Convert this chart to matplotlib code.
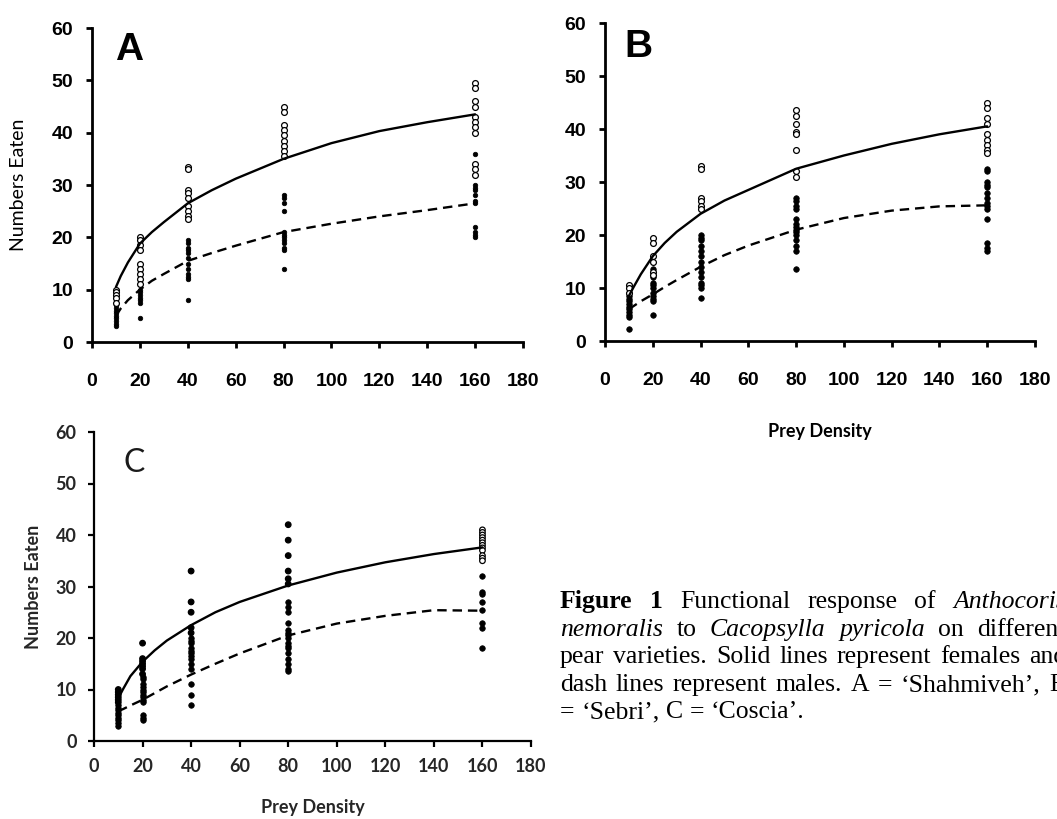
import matplotlib
matplotlib.use("Agg")
import matplotlib.pyplot as plt
from matplotlib.transforms import IdentityTransform

# ---------------- data ----------------
DENSITY = [10, 20, 40, 80, 160]
X_TICKS = [0, 20, 40, 60, 80, 100, 120, 140, 160, 180]
Y_TICKS = [0, 10, 20, 30, 40, 50, 60]

# Panel A ('Shahmiveh')
A_FEMALE = [[10, 9.5, 9, 8.5, 7.5],
            [20, 19.5, 18.5, 17.5, 15, 14, 13, 12, 11],
            [33.5, 33, 29, 28.5, 27.5, 26, 25, 24, 23.5],
            [45, 44, 41.5, 40.5, 39.5, 38.5, 37.5, 36.5, 35.5],
            [49.5, 48.5, 46, 45, 43, 42, 41, 40, 34, 33, 32]]
A_MALE = [[7, 6.5, 6, 5.5, 5, 4.5, 4, 3.5, 3],
          [10, 9.5, 9, 8.5, 8, 7.5, 4.5],
          [19.5, 19, 18, 17.5, 17, 16, 15, 14, 13, 12.5, 12, 8],
          [28, 27.5, 26.5, 25, 21, 20.5, 20, 19.5, 19, 18, 17.5, 14],
          [36, 30, 29.5, 29, 28, 27, 26.5, 22, 21, 20.5, 20]]

# Panel B ('Sebri')
B_FEMALE = [[10.5, 10, 9],
            [19.5, 18.5, 16, 15, 13, 12.5],
            [33, 32.5, 27, 26.5, 25.5, 25],
            [43.5, 42.5, 41, 39.5, 39, 36, 32, 31],
            [45, 44, 42, 41, 39, 38, 37, 36, 35.5]]
B_MALE = [[9, 8.5, 8, 7.5, 7, 6.5, 6, 5.5, 5, 4.5, 2.2],
          [13.5, 12, 11, 10.5, 10, 9, 8.5, 8, 7.5, 5],
          [20, 19.5, 19, 18, 17, 16, 15, 14, 13, 12, 11, 10.5, 10, 8.2],
          [27, 26.5, 25.5, 25, 23, 22, 21.5, 21, 20.5, 20, 19, 18, 17, 13.5],
          [32.5, 32, 30, 29.5, 29, 28, 27, 26, 25.5, 25, 23, 18.5, 17.5, 17]]

# Panel C ('Coscia')
C_FEMALE = [[10, 9.5, 9, 8.5, 8, 7.5],
            [19, 16, 15.5, 15, 14.5, 14, 13],
            [33, 27, 25, 22, 21],
            [42, 39, 36, 33, 31.5, 30.5],
            [41, 40.5, 40, 39.5, 39, 38.5, 38, 37.5, 37, 36, 35.5, 35]]
C_MALE = [[7, 6.5, 6, 5.5, 5, 4.5, 4, 3.5, 3],
          [12.5, 12, 11, 10.5, 10, 9.5, 9, 8.5, 8, 7.5, 5, 4.5, 4],
          [20, 19.5, 19, 18, 17.5, 17, 16.5, 16, 15, 14, 11, 9, 7],
          [27, 26, 25, 23, 21.5, 21, 20.5, 20, 19, 18.5, 18, 17, 16, 15, 14, 13.5],
          [32, 29, 28.5, 27, 25.5, 23, 22, 18]]

# fitted response curves
CURVE_X = [10, 12, 15, 20, 25, 30, 40, 50, 60, 80, 100, 120, 140, 160]
A_FEMALE_CURVE = [10.5, 12.6, 15.2, 18.8, 21, 22.9, 26.5, 29, 31.2, 35, 38, 40.3, 42, 43.5]
A_MALE_CURVE = [5, 6.4, 8, 10, 11.7, 13, 15.5, 17, 18.4, 21, 22.6, 24, 25.2, 26.5]
B_FEMALE_CURVE = [8.5, 10.2, 12.6, 16, 18.5, 20.6, 24, 26.5, 28.5, 32.5, 35, 37.2, 39, 40.5]
B_MALE_CURVE = [6, 6.6, 7.5, 8.8, 10.2, 11.5, 14, 16.2, 18, 21, 23.2, 24.6, 25.4, 25.6]
C_FEMALE_CURVE = [8.3, 10.1, 12.6, 15.4, 17.6, 19.5, 22.5, 25, 27, 30.2, 32.7, 34.7, 36.3, 37.6]
C_MALE_CURVE = [5.8, 6.2, 6.9, 8, 9.3, 10.6, 12.9, 15, 17, 20.5, 22.8, 24.3, 25.4, 25.3]

PANEL_LETTERS = ["A", "B", "C"]
Y_LABEL = "Numbers Eaten"
X_LABEL = "Prey Density"

CAPTION = [
    [("Figure", "b"), ("1", "b"), ("Functional", "n"), ("response", "n"), ("of", "n"), ("Anthocoris", "i")],
    [("nemoralis", "i"), ("to", "n"), ("Cacopsylla", "i"), ("pyricola", "i"), ("on", "n"), ("different", "n")],
    [(w, "n") for w in "pear varieties. Solid lines represent females and".split()],
    [(w, "n") for w in "dash lines represent males. A = \u2018Shahmiveh\u2019, B".split()],
    [(w, "n") for w in "= \u2018Sebri\u2019, C = \u2018Coscia\u2019.".split()],
]

# ---------------- figure ----------------
W, H = 1057, 819
fig = plt.figure(figsize=(W / 100, H / 100), dpi=100)
fig.patch.set_facecolor("white")


def px_axes(x0, x1, y_top, y_bot):
    return fig.add_axes([x0 / W, 1 - y_bot / H, (x1 - x0) / W, (y_bot - y_top) / H])


def expand(groups):
    xs, ys = [], []
    for d, vals in zip(DENSITY, groups):
        xs += [d] * len(vals)
        ys += vals
    return xs, ys


def style_axes(ax, spine_w, tick_font, tick_size, tick_weight, tick_color, xpad, ypad):
    for s in ["top", "right"]:
        ax.spines[s].set_visible(False)
    for s in ["left", "bottom"]:
        ax.spines[s].set_linewidth(spine_w)
        ax.spines[s].set_color("black")
    ax.set_xlim(0, 180)
    ax.set_ylim(0, 60)
    ax.set_xticks(X_TICKS)
    ax.set_yticks(Y_TICKS)
    ax.tick_params(axis="both", direction="out", length=4.5, width=spine_w, colors="black")
    ax.tick_params(axis="x", pad=xpad)
    ax.tick_params(axis="y", pad=ypad)
    for lab in ax.get_xticklabels() + ax.get_yticklabels():
        lab.set_fontfamily(tick_font)
        lab.set_fontsize(tick_size)
        lab.set_fontweight(tick_weight)
        lab.set_color(tick_color)
    ax.patch.set_alpha(0)


def draw_curves(ax, fem, male):
    ax.plot(CURVE_X, fem, color="black", lw=1.7, solid_capstyle="round",
            solid_joinstyle="round", zorder=4)
    ax.plot(CURVE_X, male, color="black", lw=1.7, ls=(0, (4, 2.5)), zorder=4)


# ---- Panel A ----
axA = px_axes(92, 523, 28, 342)
fx, fy = expand(A_FEMALE)
mx, my = expand(A_MALE)
axA.plot(mx, my, "o", ms=3.3, mfc="black", mec="black", mew=0.5, ls="none", zorder=3)
axA.plot(fx, fy, "o", ms=4.2, mfc="white", mec="black", mew=0.9, ls="none", zorder=3)
draw_curves(axA, A_FEMALE_CURVE, A_MALE_CURVE)
style_axes(axA, 2.0, "Liberation Sans", 14, "bold", "black", 18, 9)
axA.set_ylabel(Y_LABEL, fontfamily="Lato", fontsize=14, labelpad=18)
axA.text(0.085, 0.93, "A", transform=axA.transAxes, fontfamily="Liberation Sans",
         fontsize=28, fontweight="bold", ha="center", va="center")

# ---- Panel B ----
axB = px_axes(605, 1035, 23, 341)
fx, fy = expand(B_FEMALE)
mx, my = expand(B_MALE)
axB.plot(mx, my, "o", ms=4.0, mfc="black", mec="black", mew=0.5, ls="none", zorder=3)
axB.plot(fx, fy, "o", ms=4.2, mfc="white", mec="black", mew=0.9, ls="none", zorder=3)
draw_curves(axB, B_FEMALE_CURVE, B_MALE_CURVE)
style_axes(axB, 2.0, "Liberation Sans", 14, "bold", "black", 18, 9)
axB.set_xlabel(X_LABEL, fontfamily="Lato", fontsize=13, fontweight="bold", labelpad=24)
axB.text(0.077, 0.925, "B", transform=axB.transAxes, fontfamily="Liberation Sans",
         fontsize=28, fontweight="bold", ha="center", va="center")

# ---- Panel C ----
axC = px_axes(94, 531, 432, 741)
fx, fy = expand(C_FEMALE)
mx, my = expand(C_MALE)
fcols = ["white" if x == DENSITY[-1] else "black" for x in fx]
axC.scatter(mx, my, s=16, c="black", edgecolors="black", linewidths=0.5, zorder=3)
axC.scatter(fx, fy, s=16, c=fcols, edgecolors="black", linewidths=0.9, zorder=3)
draw_curves(axC, C_FEMALE_CURVE, C_MALE_CURVE)
style_axes(axC, 1.6, "Lato", 13, "bold", "#262626", 8, 8)
axC.set_ylabel(Y_LABEL, fontfamily="Lato", fontsize=13, fontweight="bold", color="#262626", labelpad=10)
axC.set_xlabel(X_LABEL, fontfamily="Lato", fontsize=13, fontweight="bold", color="#262626", labelpad=17)
axC.text(0.093, 0.9, "C", transform=axC.transAxes, fontfamily="Lato",
         fontsize=23, ha="center", va="center", color="#1a1a1a")

# ---- Caption (justified, clipped at the figure edge) ----
CAP_X0, CAP_X1 = 560, 1066
CAP_BASELINES = [608, 636, 663, 691, 718]
CAP_SIZE = 18.5
renderer = fig.canvas.get_renderer()


def cap_text(word, style):
    return fig.text(0, 0, word, transform=IdentityTransform(), fontfamily="Liberation Serif",
                    fontsize=CAP_SIZE, fontweight="bold" if style == "b" else "normal",
                    fontstyle="italic" if style == "i" else "normal",
                    ha="left", va="baseline", color="black")


probe = cap_text("a a", "n")
w_aa = probe.get_window_extent(renderer).width
probe.set_text("aa")
space_w = w_aa - probe.get_window_extent(renderer).width
probe.remove()

for li, (words, base) in enumerate(zip(CAPTION, CAP_BASELINES)):
    items = [cap_text(w, s) for w, s in words]
    widths = [t.get_window_extent(renderer).width for t in items]
    last = li == len(CAPTION) - 1
    gap = space_w if last else (CAP_X1 - CAP_X0 - sum(widths)) / (len(items) - 1)
    x = CAP_X0
    for t, wd in zip(items, widths):
        t.set_position((x, H - base))
        x += wd + gap

fig.savefig("out.png", dpi=100, facecolor="white")
